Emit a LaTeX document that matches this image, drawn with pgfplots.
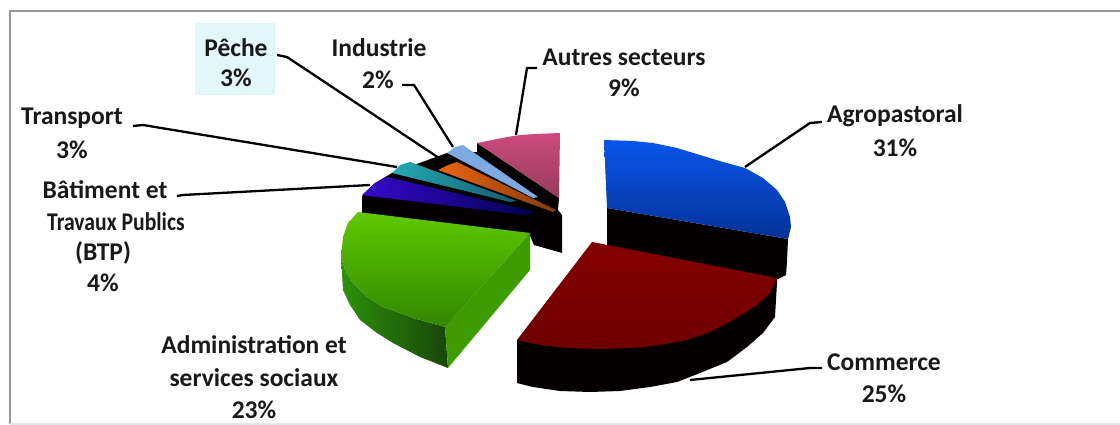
\documentclass[border=0pt]{standalone}
\usepackage{pgfplots}
\pgfplotsset{compat=1.18}
\usepackage{fontspec}
\setmainfont{Carlito}
\definecolor{framegray}{RGB}{150,150,150}
\definecolor{tagbg}{RGB}{226,247,250}
\definecolor{sidek}{RGB}{4,0,0}
\definecolor{pinkA}{RGB}{205,75,125}
\definecolor{pinkB}{RGB}{150,60,90}
\definecolor{blueA}{RGB}{10,85,235}
\definecolor{blueM}{RGB}{5,70,225}
\definecolor{blueB}{RGB}{5,50,150}
\definecolor{redA}{RGB}{132,0,0}
\definecolor{redM}{RGB}{162,0,5}
\definecolor{redB}{RGB}{112,0,0}
\definecolor{greenA}{RGB}{95,200,0}
\definecolor{greenM}{RGB}{80,175,0}
\definecolor{greenB}{RGB}{50,135,0}
\definecolor{lightblue}{RGB}{125,170,225}
\definecolor{orangeS}{RGB}{235,100,15}
\definecolor{orangeT}{RGB}{130,60,20}
\definecolor{tealS}{RGB}{35,170,180}
\definecolor{tealT}{RGB}{20,90,110}
\definecolor{violetS}{RGB}{55,10,205}
\definecolor{violetT}{RGB}{0,0,80}
\definecolor{wallL}{RGB}{45,145,10}
\definecolor{wallM}{RGB}{5,100,20}
\definecolor{wallR}{RGB}{25,70,10}
\definecolor{wallB}{RGB}{62,155,0}
\pgfplotsset{
  shadedface/.style n args={3}{draw=none, no markers, top color=#1, middle color=#2, bottom color=#3, forget plot},
  sweepface/.style 2 args={draw=none, no markers, left color=#1, right color=#2, forget plot},
  solidface/.style={draw=none, fill=#1, no markers, forget plot},
  leader/.style={draw=black, line width=2.3pt, no markers, forget plot, line join=round},
}
\tikzset{lab/.style={font=\bfseries\fontsize{25.5}{28}\selectfont, text=black!90, inner sep=0pt, anchor=center}}
\begin{document}
\begin{tikzpicture}
\begin{axis}[
  hide axis, scale only axis, width=1120pt, height=425pt,
  xmin=0, xmax=1120, ymin=0, ymax=425, y dir=reverse, clip=true,
]
% page and frame
\addplot[solidface=white] coordinates {(0,0)(1120,0)(1120,425)(0,425)} -- cycle;
\addplot[draw=framegray, line width=1.8pt, no markers, forget plot] coordinates {(10,424)(10,11)(1120,11)};
\addplot[draw=framegray!25, line width=1.2pt, no markers, forget plot] coordinates {(10,424)(1120,424)};
\addplot[solidface=tagbg] coordinates {(195,23)(275,23)(275,95)(195,95)} -- cycle;

% dark walls under the thin slices
\addplot[solidface=sidek] coordinates {(362,196)(362,214)(450,225)(530,236)(534,245)(562,253)(562,215)(558,210)(559,198)(477,143)(477,152)(447,153)(392,173)(375,183)} -- cycle;

% Autres secteurs
\addplot[shadedface={pinkA}{pinkA!60!pinkB}{pinkB}] coordinates {(477,143)(492,140)(507,137)(521,135)(535,134)(560,133)(559,198)} -- cycle;
% Industrie
\addplot[solidface=lightblue] coordinates {(463,145)(455,147)(447,153)(533,198)(538,197)} -- cycle;
% Peche
\addplot[sweepface={orangeS}{orangeT}] coordinates {(457,162)(448,165)(438,170)(553,212)(556,210)} -- cycle;
% Transport
\addplot[sweepface={tealS}{tealT}] coordinates {(410,162)(400,165)(392,173)(510,202)(517,201)} -- cycle;
% BTP
\addplot[sweepface={violetS}{violetT}] coordinates {(387,177)(375,183)(362,195)(525,215)(535,212)} -- cycle;

% Agropastoral
\addplot[solidface=sidek] coordinates {(607,208)(788,239)(787,262)(786,275)(778,279)(607,247)} -- cycle;
\addplot[shadedface={blueA}{blueM}{blueB}] coordinates {(604,140)(633,141)(653,143)(677,148)(700,155)(723,162)(745,168)(763,178)(777,190)(785,202)(790,217)(791,227)(788,239)(607,208)} -- cycle;

% Commerce
\addplot[solidface=sidek] coordinates {(517,340)(517,383)(533,387)(560,391)(590,392)(620,391)(650,387)(677,382)(700,373)(727,362)(747,347)(763,333)(775,317)(777,283)(777,278)} -- cycle;
\addplot[shadedface={redA}{redM}{redB}] coordinates {(592,242)(777,278)(770,293)(757,305)(733,320)(710,332)(687,340)(660,345)(633,348)(600,349)(567,348)(540,345)(517,340)} -- cycle;

% Administration et services sociaux
\addplot[draw=none, no markers, forget plot, left color=wallL, middle color=wallM, right color=wallR] coordinates {(341,257)(343,290)(350,305)(360,320)(377,333)(393,343)(420,357)(448,368)(445,327)(413,318)(383,307)(367,297)(353,283)(345,270)} -- cycle;
\addplot[solidface=wallB] coordinates {(445,327)(448,368)(530,270)(530,233)} -- cycle;
\addplot[shadedface={greenA}{greenM}{greenB}] coordinates {(358,212)(530,233)(445,327)(413,318)(383,307)(367,297)(353,283)(345,270)(341,257)(343,237)(348,223)} -- cycle;

% leader lines
\addplot[leader] coordinates {(745,167)(810,123)(822,122)};
\addplot[leader] coordinates {(690,380)(810,368)(822,368)};
\addplot[leader] coordinates {(516,135)(527,68)(537,68)};
\addplot[leader] coordinates {(402,85)(414,85)(453,147)};
\addplot[leader] coordinates {(277,55)(287,57)(445,162)};
\addplot[leader] coordinates {(133,126)(143,125)(397,167)};
\addplot[leader] coordinates {(177,196)(183,195)(370,185)};

% data labels
\node[lab] at (axis cs:236,48) {Pêche};
\node[lab] at (axis cs:236,78) {3\%};
\node[lab] at (axis cs:379,48) {Industrie};
\node[lab] at (axis cs:378,80) {2\%};
\node[lab] at (axis cs:624,57) {Autres secteurs};
\node[lab] at (axis cs:624,88) {9\%};
\node[lab] at (axis cs:895,116) {Agropastoral};
\node[lab] at (axis cs:895,148) {31\%};
\node[lab] at (axis cs:884,362) {Commerce};
\node[lab] at (axis cs:884,394) {25\%};
\node[lab] at (axis cs:72,118) {Transport};
\node[lab] at (axis cs:72,150) {3\%};
\node[lab] at (axis cs:105,190) {Bâtiment et};
\node[lab, xscale=0.85] at (axis cs:116,222) {Travaux Publics};
\node[lab] at (axis cs:103,253) {(BTP)};
\node[lab] at (axis cs:103,283) {4\%};
\node[lab] at (axis cs:254,345) {Administration et};
\node[lab] at (axis cs:254,378) {services sociaux};
\node[lab] at (axis cs:254,410) {23\%};
\end{axis}
\end{tikzpicture}
\end{document}
